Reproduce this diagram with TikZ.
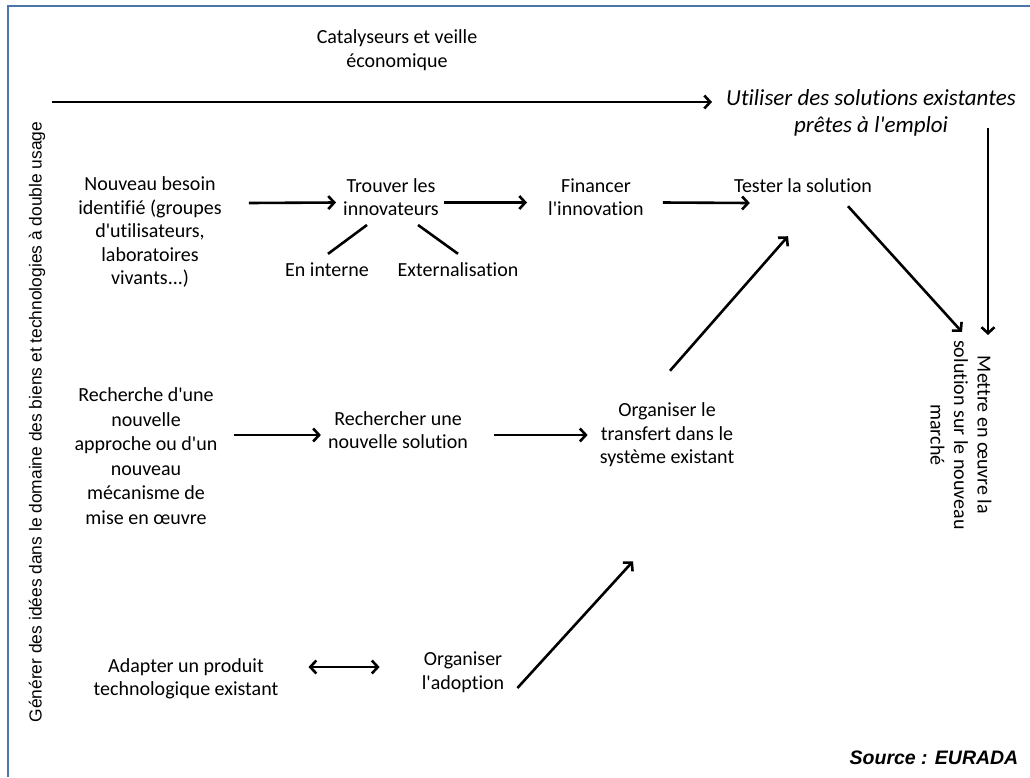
\documentclass[tikz,border=0pt]{standalone}
\usepackage{fontspec}
\setmainfont{Carlito}[Ligatures={TeXOff,NoCommon}]
\newfontfamily\arialfont{Liberation Sans}
\usetikzlibrary{arrows.meta}
\definecolor{framecol}{RGB}{74,118,168}

\begin{document}
\begin{tikzpicture}[x=1pt,y=-1pt,
  lbl/.style={align=center, inner sep=0pt, font=\fontsize{20}{23.5}\selectfont},
  flow/.style={line width=2.6pt, -{Straight Barb[length=6pt,width=13pt]}},
  twoway/.style={line width=2.6pt, {Straight Barb[length=6pt,width=13pt]}-{Straight Barb[length=6pt,width=13pt]}},
  plain/.style={line width=2.6pt},
  sidelbl/.style={inner sep=0pt, font=\arialfont\fontsize{17.4}{20}\selectfont}]
\useasboundingbox (0,0) rectangle (1030,777);
% frame
\draw[framecol, line width=2.2pt] (8,777) -- (8,6) -- (1030,6);

% labels
\node[lbl, font=\fontsize{20}{24}\selectfont] (catal) at (397,50) {Catalyseurs et veille\\économique};
\node[lbl, font=\itshape\fontsize{23}{27}\selectfont] (utiliser) at (871,113) {Utiliser des solutions existantes\\prêtes à l'emploi};
\node[lbl] (besoin) at (150,232) {Nouveau besoin\\identifié (groupes\\d'utilisateurs,\\laboratoires\\vivants...)};
\node[lbl] (trouver) at (391,197) {Trouver les\\innovateurs};
\node[lbl] (interne) at (327,270) {En interne};
\node[lbl] (extern) at (458,270) {Externalisation};
\node[lbl] (financer) at (596,197) {Financer\\l'innovation};
\node[lbl] (tester) at (803,186) {Tester la solution};
\node[lbl, rotate=-90] (mettre) at (961,435) {Mettre en œuvre la\\solution sur le nouveau\\marché};
\node[lbl, font=\fontsize{20}{24.5}\selectfont] (recherche) at (146,456) {Recherche d'une\\nouvelle\\approche ou d'un\\nouveau\\mécanisme de\\mise en œuvre};
\node[lbl] (rechsol) at (398,430) {Rechercher une\\nouvelle solution};
\node[lbl] (transfert) at (667,435) {Organiser le\\transfert dans le\\système existant};
\node[lbl] (adapter) at (186,679) {Adapter un produit\\technologique existant};
\node[lbl] (adoption) at (463,672) {Organiser\\l'adoption};
\node[sidelbl, rotate=90] (generer) at (37,422) {Générer des idées dans le domaine des biens et technologies à double usage};
\node[inner sep=0pt, font=\arialfont\bfseries\itshape\fontsize{19.5}{22}\selectfont] (source) at (934,758) {Source : EURADA};

% connectors
\coordinate (topstart) at (52,102);
\draw[flow] (topstart) -- ([xshift=-14pt]utiliser.west |- topstart);
\draw[flow] ([shift={(-28,-9)}]utiliser.south east) -- ([shift={(-28,-5)}]utiliser.south east |- mettre.west);

\draw[flow] ([shift={(27,-29)}]besoin.east) -- ([shift={(-7,5.5)}]trouver.west);
\draw[flow] ([shift={(5,5.5)}]trouver.east) -- ([shift={(-21,5.5)}]financer.west);
\draw[flow] ([shift={(19,5.5)}]financer.east) -- ([shift={(16,17)}]tester.west);
\draw[plain] ([shift={(-24,9)}]trouver.south) -- ([shift={(1,-9)}]interne.north);
\draw[plain] ([shift={(27,9)}]trouver.south) -- ([shift={(0,-9)}]extern.north);
\draw[flow] ([shift={(45,13)}]tester.south) -- ([shift={(1,-8)}]mettre.west);

\draw[flow] ([shift={(16,-21)}]recherche.east) -- ([shift={(-7,5)}]rechsol.west);
\draw[flow] ([shift={(26,5)}]rechsol.east) -- ([shift={(-12,0)}]transfert.west);
\draw[flow] ([shift={(3,-32)}]transfert.north) -- ([shift={(-15,43)}]tester.south);
\draw[flow] ([shift={(13,16)}]adoption.east) -- ([shift={(-34,94)}]transfert.south);
\draw[twoway] ([shift={(30,-12)}]adapter.east) -- ([shift={(-42,-5)}]adoption.west);
\end{tikzpicture}
\end{document}
